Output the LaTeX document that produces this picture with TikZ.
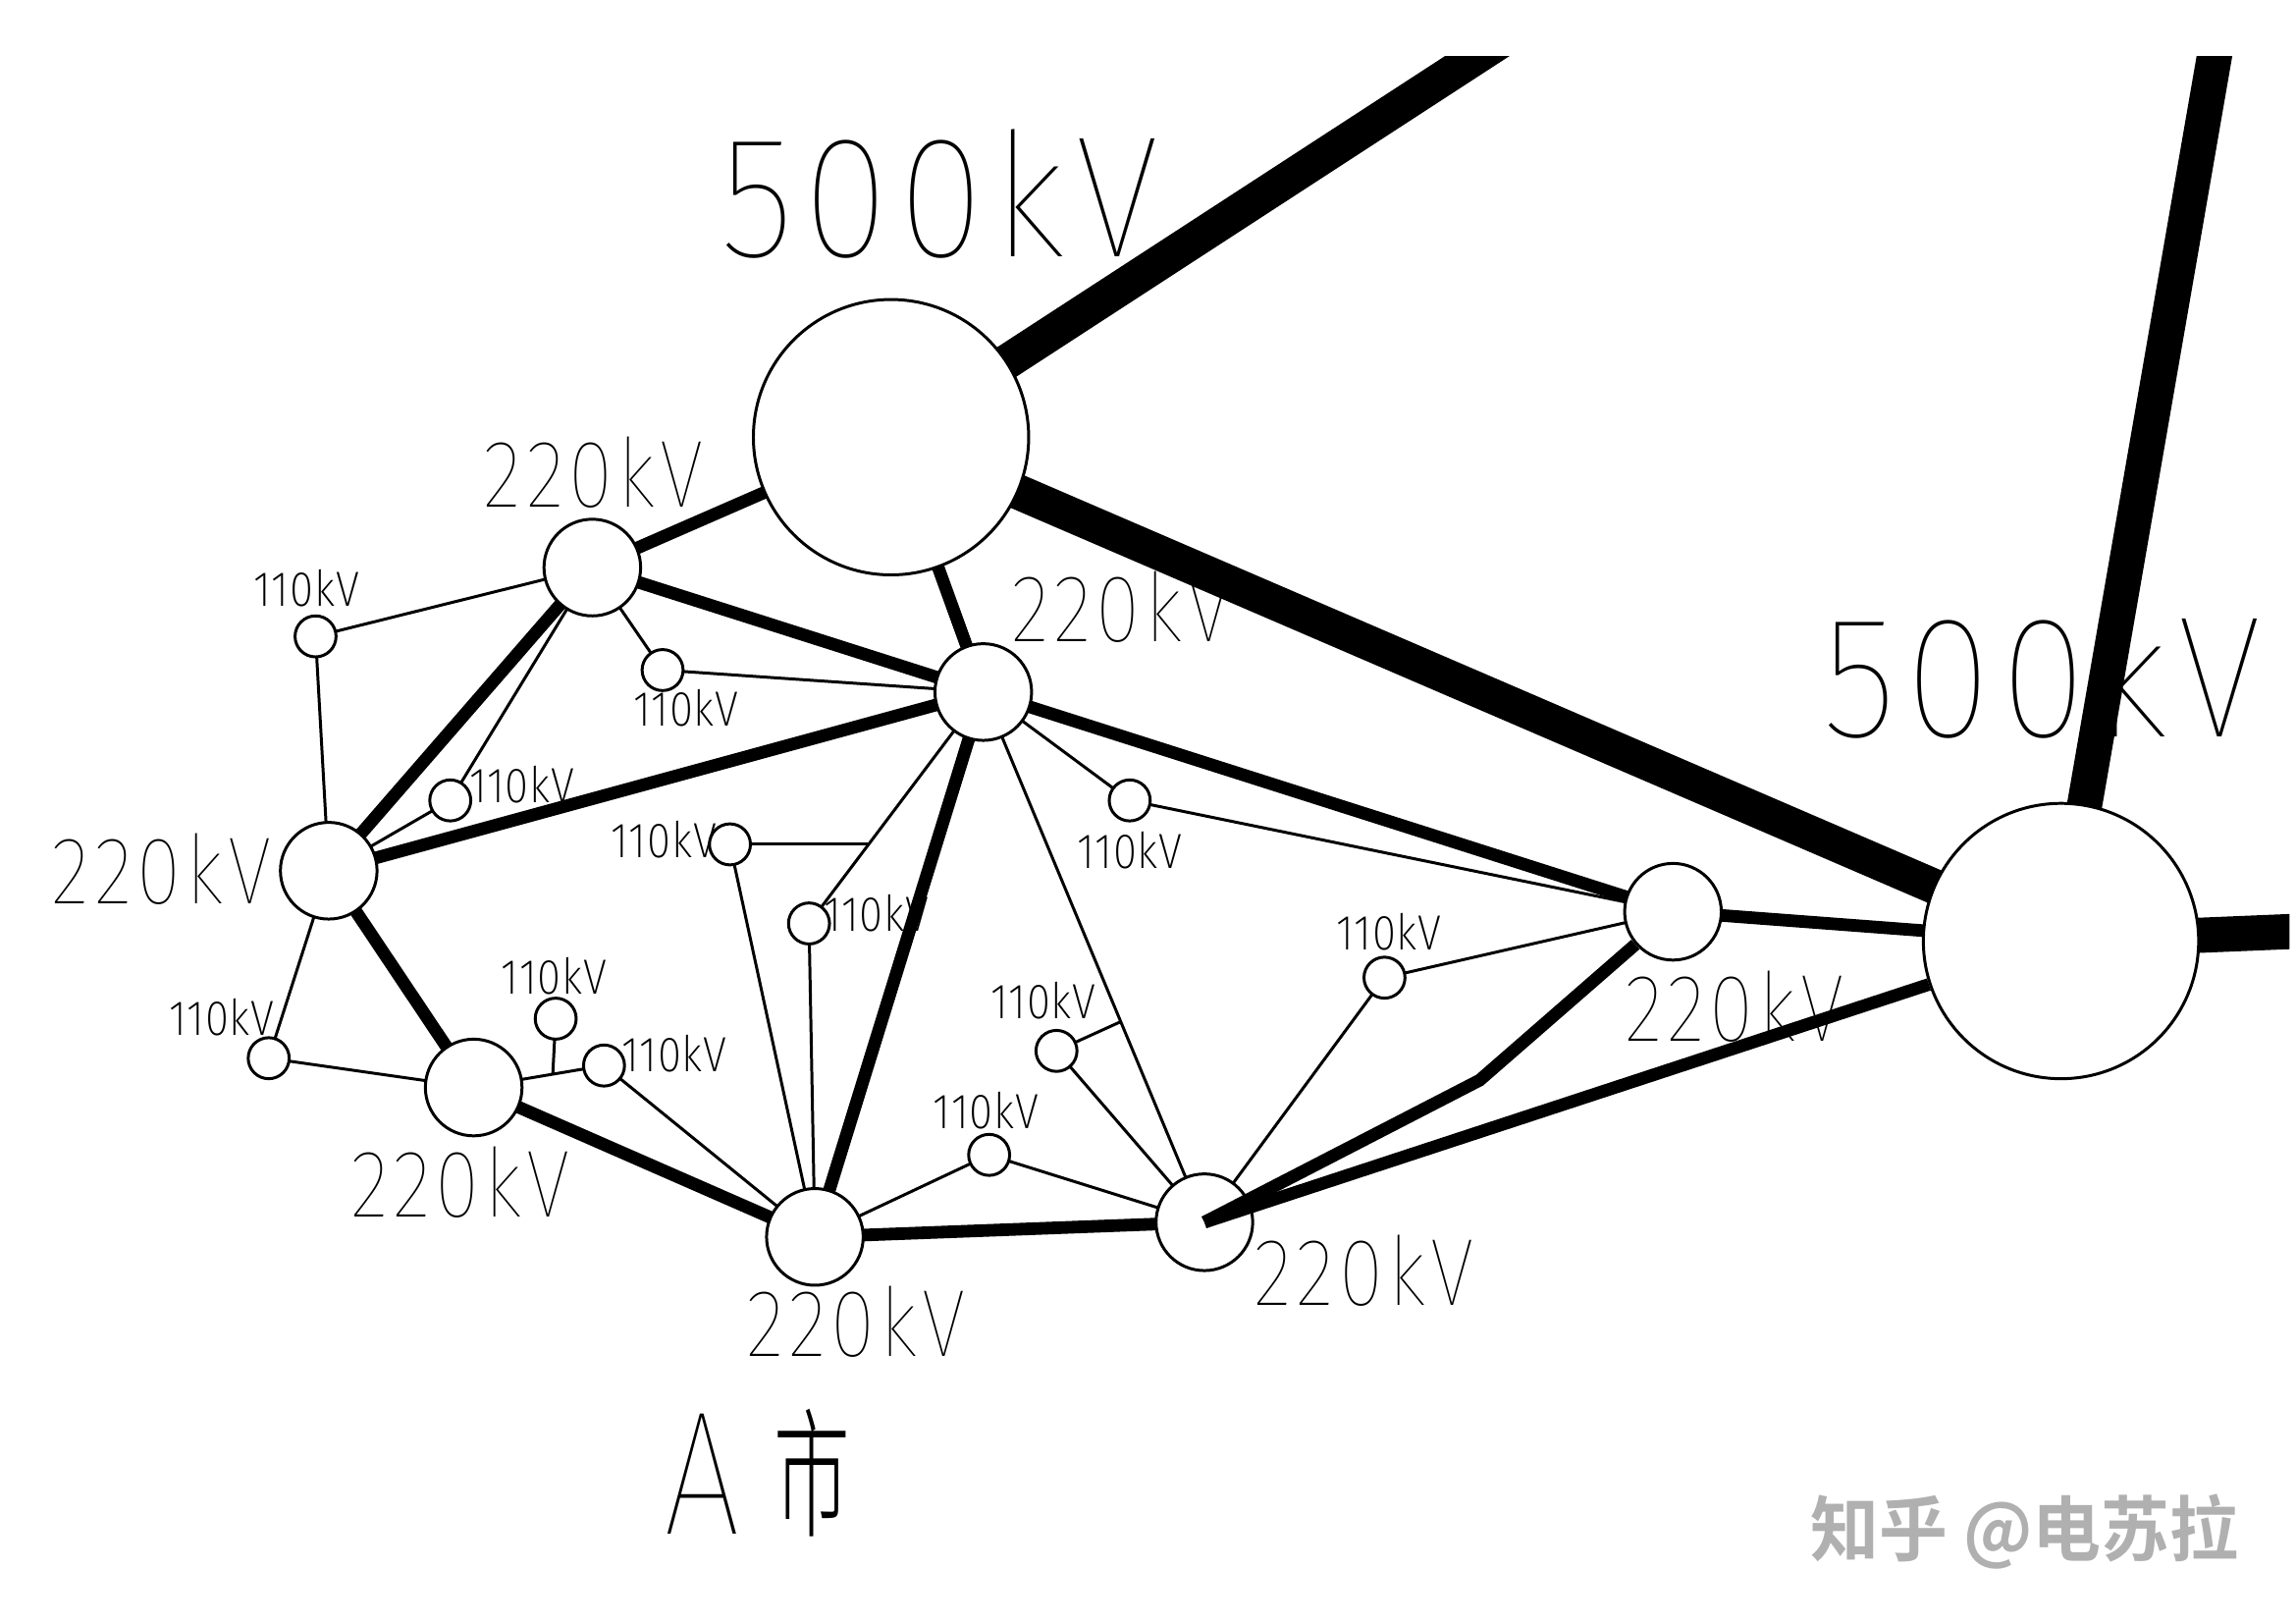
\documentclass[tikz,border=0pt]{standalone}
\usepackage{fontspec}
\usepackage{graphicx}
\newfontfamily\thinfont[LetterSpace=6]{Fira Sans Thin}
\newfontfamily\smallfont[LetterSpace=2]{Fira Sans ExtraLight}
\newfontfamily\cjkfont{Noto Sans CJK SC Light}
\newfontfamily\cjkbold{Noto Sans CJK SC Bold}
\newcommand\szA[1]{\resizebox{150pt}{43.5pt}{\thinfont #1}}
\newcommand\szB[1]{\resizebox{75pt}{24pt}{\thinfont #1}}
\newcommand\szC[1]{\resizebox{36pt}{12.5pt}{\smallfont #1}}
\tikzset{
  x=0.5pt,y=-0.5pt,
  bignode/.style={circle,draw=black,fill=white,line width=1pt,minimum size=94pt,inner sep=0pt},
  midnode/.style={circle,draw=black,fill=white,line width=1pt,minimum size=33pt,inner sep=0pt},
  smallnode/.style={circle,draw=black,fill=white,line width=1pt,minimum size=14pt,inner sep=0pt},
  lab/.style={inner sep=0pt,text=black},
  heavy/.style={line width=12pt,draw=black},
  medium/.style={line width=4.3pt,draw=black},
  light/.style={line width=1pt,draw=black},
}
\begin{document}
\begin{tikzpicture}
\useasboundingbox (-0.5,-0.5) rectangle (1567.5,1107.5);
% stations
\coordinate (UR) at (1028,25);
\coordinate (UP) at (1514,25);
\coordinate (RT) at (1600,634);
\coordinate (J1) at (592,576);
\coordinate (J2) at (765,697);
\coordinate (J3) at (377,733);
\coordinate (BD) at (1010,737);
\path
 (608,298) coordinate (cA)
 (1407,642) coordinate (cB)
 (404,387) coordinate (c1)
 (671,472) coordinate (c2)
 (224,594) coordinate (c3)
 (323,742) coordinate (c4)
 (556,844) coordinate (c5)
 (822,834) coordinate (c6)
 (1142,622) coordinate (c7)
 (215,434) coordinate (ca)
 (452,457) coordinate (cb)
 (307,546) coordinate (cc)
 (498,576) coordinate (cd)
 (552,630) coordinate (ce)
 (771,546) coordinate (cf)
 (945,667) coordinate (cg)
 (721,717) coordinate (ch)
 (675,788) coordinate (ci)
 (379,695) coordinate (cj)
 (412,727) coordinate (ck)
 (183,722) coordinate (cl);
% labels
\node[lab] (t500a) at (641,132) {\szA{500kV}};
\node[lab] (t500b) at (1394,460) {\szA{500kV}};
\node[lab] (t220a) at (405,322) {\szB{220kV}};
\node[lab] (t220b) at (765,414) {\szB{220kV}};
\node[lab] (t220c) at (110,593) {\szB{220kV}};
\node[lab] (t220d) at (314,807) {\szB{220kV}};
\node[lab] (t220e) at (584,902) {\szB{220kV}};
\node[lab] (t220f) at (931,867) {\szB{220kV}};
\node[lab] (t220g) at (1184,687) {\szB{220kV}};
\node[lab] (t110a) at (209,401) {\szC{110kV}};
\node[lab] (t110b) at (468,483) {\szC{110kV}};
\node[lab] (t110c) at (356,535) {\szC{110kV}};
\node[lab] (t110d) at (453,573) {\szC{110kV}};
\node[lab] (t110e) at (598,623) {\szC{110kV}};
\node[lab] (t110f) at (771,580) {\szC{110kV}};
\node[lab] (t110g) at (948,636) {\szC{110kV}};
\node[lab] (t110h) at (712,683) {\szC{110kV}};
\node[lab] (t110i) at (673,758) {\szC{110kV}};
\node[lab] (t110j) at (378,666) {\szC{110kV}};
\node[lab] (t110k) at (460,719) {\szC{110kV}};
\node[lab] (t110l) at (151,694) {\szC{110kV}};
\node[lab] (tA) at (479,1006) {\resizebox{26pt}{41pt}{\thinfont A}};
\node[lab] (tshi) at (554,1005) {\resizebox{26pt}{40pt}{\cjkfont 市}};
\node[lab,text=black!31] (wm) at (1382,1045) {\resizebox{146pt}{21pt}{\cjkbold 知乎 @电苏拉}};
% connectors under stations
\begin{scope}
\clip (0,38) rectangle (1563,1108);
\draw[heavy] (cA) -- (UR);
\draw[heavy] (cB) -- (UP);
\draw[heavy] (cB) -- (RT);
\draw[heavy] (cA) -- (cB);
\end{scope}
\draw[medium] (cA) -- (c1);
\draw[medium] (cA) -- (c2);
\draw[medium] (c1) -- (c2);
\draw[medium] (c1) -- (c3);
\draw[medium] (c2) -- (c3);
\draw[medium] (c3) -- (c4);
\draw[medium] (c4) -- (c5);
\draw[medium] (c5) -- (c2);
\draw[medium] (c5) -- (c6);
\draw[medium] (c2) -- (c7);
\draw[medium] (c7) -- (cB);
\draw[light] (ca) -- (c1);
\draw[light] (ca) -- (c3);
\draw[light] (c1) -- (cb);
\draw[light] (cb) -- (c2);
\draw[light] (c1) -- (cc);
\draw[light] (cc) -- (c3);
\draw[light] (cd) -- (J1);
\draw[light] (c2) -- (ce);
\draw[light] (cd) -- (c5);
\draw[light] (ce) -- (c5);
\draw[light] (c3) -- (cl);
\draw[light] (cl) -- (c4);
\draw[light] (c4) -- (ck);
\draw[light] (cj) -- (J3);
\draw[light] (ck) -- (c5);
\draw[light] (c5) -- (ci);
\draw[light] (ci) -- (c6);
\draw[light] (ch) -- (c6);
\draw[light] (ch) -- (J2);
\draw[light] (c2) -- (c6);
\draw[light] (c2) -- (cf);
\draw[light] (cf) -- (c7);
\draw[light] (cg) -- (c7);
\draw[light] (cg) -- (c6);
% stations
\node[bignode] (A) at (cA) {};
\node[bignode] (B) at (cB) {};
\node[midnode] (n1) at (c1) {};
\node[midnode] (n2) at (c2) {};
\node[midnode] (n3) at (c3) {};
\node[midnode] (n4) at (c4) {};
\node[midnode] (n5) at (c5) {};
\node[midnode] (n6) at (c6) {};
\node[midnode] (n7) at (c7) {};
\node[smallnode] (a) at (ca) {};
\node[smallnode] (b) at (cb) {};
\node[smallnode] (c) at (cc) {};
\node[smallnode] (d) at (cd) {};
\node[smallnode] (e) at (ce) {};
\node[smallnode] (f) at (cf) {};
\node[smallnode] (g) at (cg) {};
\node[smallnode] (h) at (ch) {};
\node[smallnode] (i) at (ci) {};
\node[smallnode] (j) at (cj) {};
\node[smallnode] (k) at (ck) {};
\node[smallnode] (l) at (cl) {};
% lines that run over station 6
\draw[medium] (n6.center) -- (B);
\draw[medium] (n6.center) -- (BD) -- (n7);
\end{tikzpicture}
\end{document}
